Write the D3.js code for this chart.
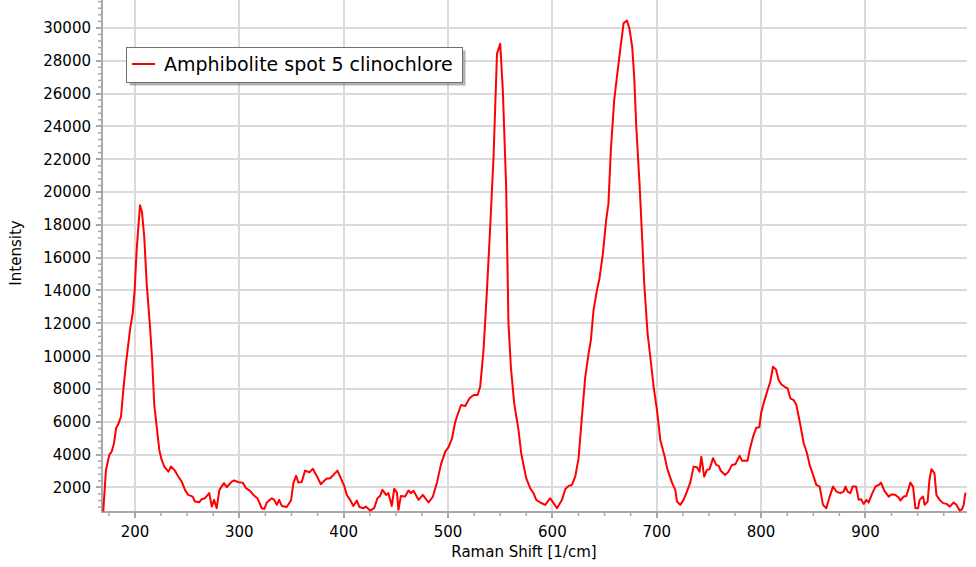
<!DOCTYPE html>
<html>
<head>
<meta charset="utf-8">
<script src="https://cdn.jsdelivr.net/npm/d3@7"></script>
<style>
  html, body { margin: 0; padding: 0; background: #fff; }
  svg { display: block; font-family: "DejaVu Sans", Verdana, sans-serif; }
</style>
</head>
<body>
<svg id="chart" width="976" height="567"></svg>
<script>
const seriesName = "Amphibolite spot 5 clinochlore";
const xTitle = "Raman Shift [1/cm]";
const yTitle = "Intensity";
const xTickValues = [200, 300, 400, 500, 600, 700, 800, 900];
const yTickValues = [2000, 4000, 6000, 8000, 10000, 12000, 14000, 16000, 18000, 20000, 22000, 24000, 26000, 28000, 30000];

const ramanShift = [
  169.6, 172.2, 175.4, 177.7, 179.9, 181.9, 184, 186.6, 188.8, 191.4, 195.2, 197.8, 199.7,
  201.6, 204.8, 206.7, 208.9, 211.2, 214.4, 216.3, 218.5, 220.8, 223.3, 225.6, 228.1, 232,
  234.5, 238.3, 241.5, 244.8, 247.9, 251.1, 255.3, 257.5, 261.7, 264, 267.1, 271.2, 273.6,
  275.8, 278.3, 280.9, 285.3, 287.9, 292.7, 295.2, 299, 303.3, 306.4, 310.3, 313.5, 317.3,
  321.5, 324, 326.4, 331.1, 333.4, 335.9, 338.1, 340.7, 345.4, 349.5, 351.8, 354.4, 356.6,
  359.8, 363, 367.2, 370.4, 374.2, 378.1, 383.2, 387, 390.2, 394, 396.6, 400.4, 403, 406.1,
  409.3, 412.6, 415.1, 418.9, 421.2, 425.3, 429.2, 432.3, 434.9, 437.1, 440.7, 442.9, 446.1,
  448.4, 451, 452.5, 454.8, 458.9, 462.1, 464.4, 466.9, 471.7, 475.9, 481.3, 485.5, 489.4,
  493.2, 497.3, 500.5, 503.7, 506.9, 509.1, 512.4, 516.5, 520.6, 524.5, 528.3, 530.8, 534,
  537.3, 540.4, 543.6, 546.9, 550, 552.5, 555.7, 557.9, 560.2, 563.4, 567.5, 570.1, 574.9,
  578.7, 581.9, 584.5, 588.3, 593.1, 597.9, 601.1, 604.4, 609.2, 612.3, 615.5, 618.7, 621.9,
  625.1, 628.3, 631.5, 634.7, 636.9, 639.4, 642.7, 645.1, 648.4, 651.5, 653.7, 656, 659.2,
  661.8, 664.9, 668.2, 671.4, 673.9, 676.5, 678.4, 680.4, 683.5, 685.8, 688, 691.2, 693.8,
  697, 700.2, 703.4, 707.2, 710.4, 714.6, 717.7, 719.4, 722.5, 725.7, 728.9, 732.1, 735.3,
  738.5, 741, 742.7, 745.5, 748.1, 750.6, 753.9, 757, 759.3, 761.5, 765.7, 768.8, 772.1,
  775.3, 779.4, 781.7, 787.1, 789, 792.3, 795.4, 798.3, 800, 802.4, 805.7, 808.8, 811.4,
  814.3, 816.8, 819.4, 822.5, 825.4, 828, 831.2, 833.8, 837.6, 840.8, 844, 846.5, 849.8,
  852.9, 856.1, 859.3, 862.5, 865.7, 868.9, 872.1, 875.9, 879.1, 880.8, 882.9, 885.5, 887.7,
  891, 893.5, 895.8, 898.3, 900.9, 903.1, 906.3, 909.5, 912.7, 914.9, 918.1, 922.2, 925.5,
  928.7, 931.8, 933.4, 936.6, 939.2, 943, 945.6, 947.8, 950.4, 951.9, 955.2, 956.7, 959.6,
  961.3, 963.2, 966.1, 968, 971.1, 974.4, 977.6, 980.7, 984.5, 987.1, 990.3, 992.6, 994.1,
  995.8
];
const intensity = [
  527, 3065, 3978, 4180, 4690, 5600, 5860, 6310, 7930, 9560, 11580, 12600, 14020,
  16450, 19190, 18780, 17260, 14430, 11790, 9960, 7020, 5700, 4280, 3670, 3270, 2960,
  3270, 3020, 2660, 2350, 1850, 1540, 1440, 1140, 1100, 1280, 1340, 1650, 830,
  1240, 730, 1850, 2260, 2010, 2350, 2420, 2320, 2290, 1950, 1790, 1540, 1340,
  730, 690, 1080, 1340, 1240, 935, 1240, 870, 800, 1200, 2260, 2700, 2290,
  2330, 3020, 2920, 3130, 2700, 2195, 2520, 2560, 2760, 3020, 2660, 2110, 1540, 1240,
  870, 1200, 800, 730, 830, 590, 730, 1340, 1480, 1850, 1540, 1650, 870,
  1910, 1680, 630, 1480, 1440, 1810, 1650, 1790, 1240, 1540, 1080, 1440, 2300,
  3400, 4180, 4450, 4950, 6000, 6410, 7020, 6960, 7430, 7630, 7630, 8130, 10370,
  14020, 17870, 22130, 28420, 29030, 26190, 20300, 12000, 9350, 7120, 5500, 4080, 2560,
  1950, 1650, 1240, 1080, 935, 1340, 1040, 730, 1240, 1890, 2090, 2150, 2660,
  3780, 6310, 8740, 10170, 10980, 12800, 14020, 14730, 16250, 18280, 19290, 22540, 25580,
  27000, 28620, 30280, 30450, 29940, 28820, 27000, 23950, 20500, 17470, 14430, 11380, 9960,
  8130, 6720, 4890, 3980, 3065, 2290, 1850, 1140, 935, 1240, 1745, 2290, 3265,
  3230, 2960, 3870, 2660, 3065, 3110, 3780, 3370, 3310, 3000, 2760, 2960, 3370,
  3410, 3920, 3630, 3630, 4280, 5090, 5640, 5660, 6520, 7120, 7830, 8440, 9350,
  9190, 8540, 8280, 8130, 8040, 7430, 7320, 7020, 5800, 4690, 4080, 3370, 2760,
  2150, 2050, 935, 730, 1440, 2050, 1745, 1650, 1745, 2050, 1745, 1650, 2050,
  2050, 1240, 1280, 995, 1240, 1080, 1600, 2050, 2150, 2290, 1805, 1440, 1585,
  1540, 1380, 1200, 1440, 1480, 2290, 2050, 730, 730, 1240, 1440, 935, 1140,
  2460, 3110, 2870, 1540, 1240, 1040, 995, 830, 1080, 935, 590, 670, 935,
  1680
];

const svg = d3.select("#chart");
const plot = { left: 102, right: 967, top: 0, bottom: 512 };

const x = d3.scaleLinear().domain([168.4, 997.3]).range([plot.left, plot.right]);
const y = d3.scaleLinear().domain([500, 31700]).range([plot.bottom, plot.top]);

// gridlines
const grid = svg.append("g");
grid.selectAll("line.vg").data(xTickValues).join("line")
  .attr("x1", d => Math.round(x(d))).attr("x2", d => Math.round(x(d)))
  .attr("y1", plot.top).attr("y2", plot.bottom)
  .attr("stroke", "#dadada").attr("stroke-width", 2);
grid.selectAll("line.hg").data(yTickValues).join("line")
  .attr("x1", plot.left).attr("x2", plot.right)
  .attr("y1", d => Math.round(y(d))).attr("y2", d => Math.round(y(d)))
  .attr("stroke", "#dadada").attr("stroke-width", 2);

// minor ticks
const xMinor = d3.range(175, 1000, 25).filter(v => v % 100 !== 0 && v >= 168.4 && v <= 997);
const yMinor = d3.range(800, 31700, 400).filter(v => v % 2000 !== 0);

const axisColor = "#a8a8a8";
const ax = svg.append("g");
ax.selectAll("line.xm").data(xMinor).join("line")
  .attr("x1", d => x(d)).attr("x2", d => x(d))
  .attr("y1", plot.bottom).attr("y2", plot.bottom + 4)
  .attr("stroke", axisColor).attr("stroke-width", 1.5);
ax.selectAll("line.xM").data(xTickValues).join("line")
  .attr("x1", d => Math.round(x(d))).attr("x2", d => Math.round(x(d)))
  .attr("y1", plot.bottom).attr("y2", plot.bottom + 6)
  .attr("stroke", axisColor).attr("stroke-width", 2);
ax.selectAll("line.ym").data(yMinor).join("line")
  .attr("x1", plot.left - 4).attr("x2", plot.left)
  .attr("y1", d => y(d)).attr("y2", d => y(d))
  .attr("stroke", axisColor).attr("stroke-width", 1.5);
ax.selectAll("line.yM").data(yTickValues).join("line")
  .attr("x1", plot.left - 6).attr("x2", plot.left)
  .attr("y1", d => Math.round(y(d))).attr("y2", d => Math.round(y(d)))
  .attr("stroke", axisColor).attr("stroke-width", 2);

// axis lines
ax.append("line").attr("x1", plot.left).attr("x2", plot.left)
  .attr("y1", plot.top).attr("y2", plot.bottom + 1)
  .attr("stroke", axisColor).attr("stroke-width", 2);
ax.append("line").attr("x1", plot.left - 1).attr("x2", plot.right)
  .attr("y1", plot.bottom).attr("y2", plot.bottom)
  .attr("stroke", axisColor).attr("stroke-width", 2);

// tick labels
ax.selectAll("text.xl").data(xTickValues).join("text")
  .attr("x", d => x(d)).attr("y", 537)
  .attr("text-anchor", "middle").attr("font-size", 15).attr("fill", "#000")
  .text(d => d);
ax.selectAll("text.yl").data(yTickValues).join("text")
  .attr("x", 91).attr("y", d => y(d)).attr("dy", "0.36em")
  .attr("text-anchor", "end").attr("font-size", 15).attr("fill", "#000")
  .text(d => d);

// axis titles
svg.append("text").attr("x", 524).attr("y", 557)
  .attr("text-anchor", "middle").attr("font-size", 15).text(xTitle);
svg.append("text").attr("transform", "translate(21,253) rotate(-90)")
  .attr("text-anchor", "middle").attr("font-size", 15).text(yTitle);

// clip
svg.append("clipPath").attr("id", "clip").append("rect")
  .attr("x", plot.left).attr("y", plot.top)
  .attr("width", plot.right - plot.left).attr("height", plot.bottom - plot.top);

const data = ramanShift.map((d, i) => [d, intensity[i]]);
const line = d3.line().x(d => x(d[0])).y(d => y(d[1]));
svg.append("path").datum(data)
  .attr("clip-path", "url(#clip)")
  .attr("d", line)
  .attr("fill", "none").attr("stroke", "#ff0000").attr("stroke-width", 2)
  .attr("stroke-linejoin", "round");

// legend
const lg = svg.append("g");
lg.append("rect").attr("x", 129.5).attr("y", 50.5).attr("width", 336).attr("height", 35)
  .attr("fill", "#555").attr("opacity", 0.45);
lg.append("rect").attr("x", 126.5).attr("y", 47.5).attr("width", 336).attr("height", 35)
  .attr("fill", "#fff").attr("stroke", "#707070").attr("stroke-width", 1);
lg.append("line").attr("x1", 132).attr("x2", 155).attr("y1", 64).attr("y2", 64)
  .attr("stroke", "#ff0000").attr("stroke-width", 2);
lg.append("text").attr("x", 164).attr("y", 71).attr("font-size", 19).attr("fill", "#000")
  .text(seriesName);
</script>
</body>
</html>
